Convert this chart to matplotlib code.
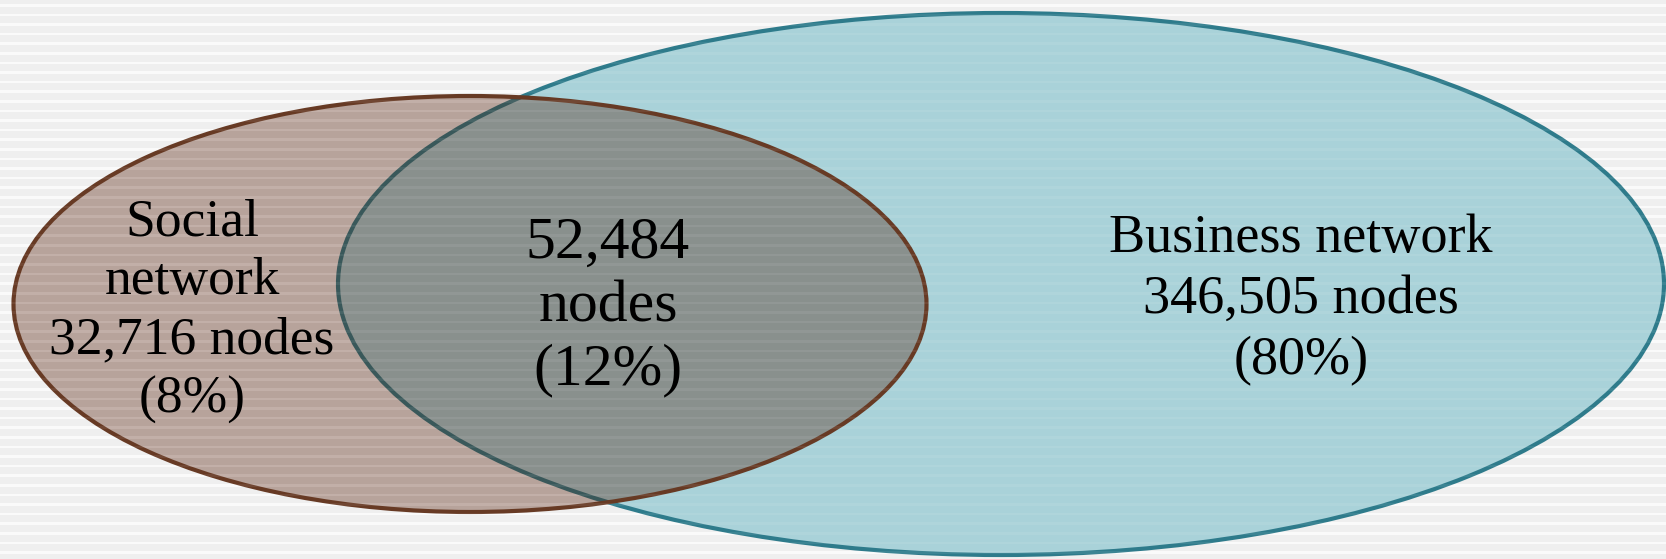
import numpy as np
import matplotlib.pyplot as plt
from matplotlib.patches import Ellipse

# Dados
labels = ['Social\nnetwork', '', 'Business network']
nodes = [32716, 52484, 346505]
percent = [8, 12, 80]

# Cores
bg = '#efefef'
blue_fill = '#a9d2d9'
blue_edge = '#2e7b8b'
brown_fill = '#501700'
brown_edge = '#673a24'

W, H = 1666, 559
fig = plt.figure(figsize=(W / 100, H / 100), dpi=100)
fig.patch.set_facecolor(bg)
ax = fig.add_axes([0, 0, 1, 1])
ax.set_xlim(0, W)
ax.set_ylim(H, 0)
ax.axis('off')

# Fundo listrado
for y in np.arange(4, H, 9.6):
    ax.axhspan(y, y + 2.5, color='white', alpha=0.7, lw=0, zorder=0)

# Elipses (rede de negócios por baixo, rede social por cima)
ax.add_patch(Ellipse((1001, 284), 1326, 542, facecolor=blue_fill,
                     edgecolor='none', zorder=1))
ax.add_patch(Ellipse((1001, 284), 1326, 542, facecolor='none',
                     edgecolor=blue_edge, lw=3, zorder=2))
ax.add_patch(Ellipse((470, 304), 913, 416, facecolor=brown_fill,
                     alpha=0.35, edgecolor='none', zorder=3))
ax.add_patch(Ellipse((470, 304), 913, 416, facecolor='none',
                     edgecolor=brown_edge, lw=3, zorder=4))

# Listras por cima das elipses (textura)
for y in np.arange(4, H, 9.6):
    ax.axhspan(y, y + 2.5, color='white', alpha=0.07, lw=0, zorder=5)

font = dict(family=['Liberation Serif', 'DejaVu Serif'], color='black',
            ha='center', va='center', zorder=6)

ax.text(192, 311, f'{labels[0]}\n{nodes[0]:,} nodes\n({percent[0]}%)',
        fontsize=38.5, linespacing=1.3, **font)
ax.text(608, 307, f'{nodes[1]:,}\nnodes\n({percent[1]}%)',
        fontsize=43, linespacing=1.22, **font)
ax.text(1301, 300, f'{labels[2]}\n{nodes[2]:,} nodes\n({percent[2]}%)',
        fontsize=39, linespacing=1.27, **font)

plt.savefig('out.png', dpi=100, facecolor=bg)
